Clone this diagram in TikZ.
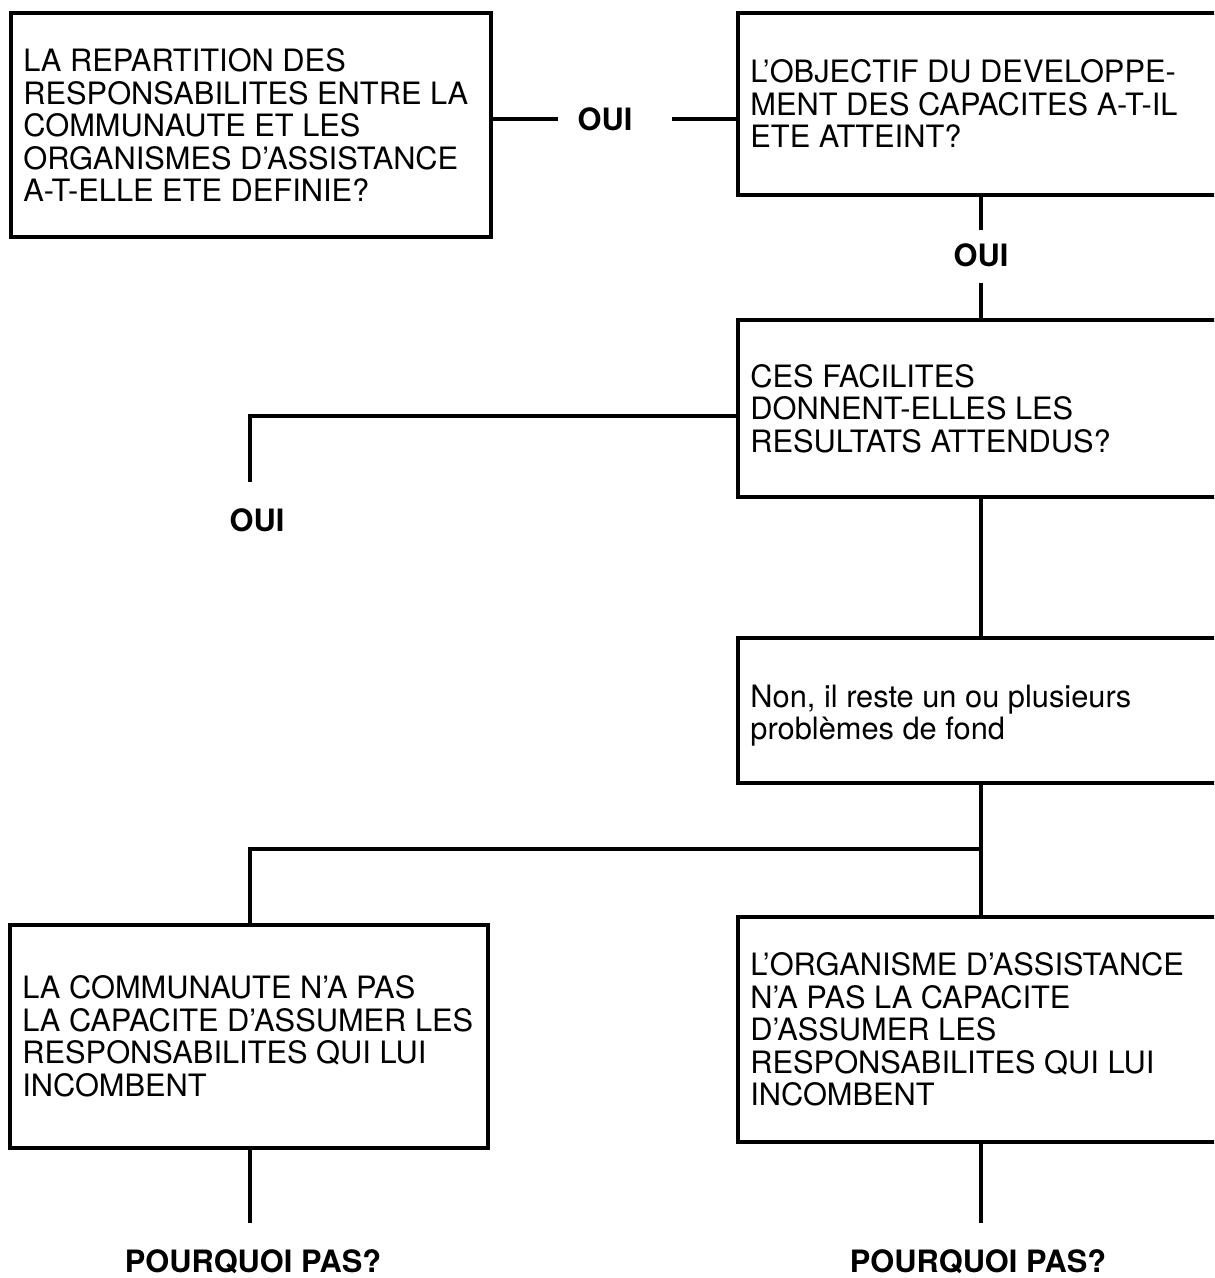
\documentclass[tikz,border=0pt]{standalone}
\usepackage{fontspec}
\setmainfont{TeX Gyre Heros}
\begin{document}
\begin{tikzpicture}[x=0.5pt,y=-0.5pt,
  frame/.style={draw, line width=1.9pt, rectangle, inner sep=0pt, outer sep=0pt},
  txt/.style={anchor=west, align=left, inner sep=0pt, font=\fontsize{15.4}{16.25}\selectfont},
  ans/.style={inner sep=0pt, font=\fontsize{15.4}{16}\selectfont\bfseries},
  link/.style={line width=1.7pt}]
\useasboundingbox (0,0) rectangle (1214,1278);
\clip (0,0) rectangle (1214,1278);

% question and finding boxes (the right column runs past the page edge)
\node[frame, minimum width=240pt, minimum height=112pt]   (b1) at (251,125) {};
\node[frame, minimum width=256pt, minimum height=91pt]    (b2) at (994,104) {};
\node[frame, minimum width=256pt, minimum height=88.5pt]  (b3) at (994,408.5) {};
\node[frame, minimum width=256pt, minimum height=72.5pt]  (b4) at (994,710.5) {};
\node[frame, minimum width=239pt, minimum height=111.5pt] (b5) at (249,1036.5) {};
\node[frame, minimum width=256pt, minimum height=112.5pt] (b6) at (994,1029.5) {};

% box texts
\node[txt] (t1) at ([xshift=6pt]b1.west) {LA REPARTITION DES\\RESPONSABILITES ENTRE LA\\COMMUNAUTE ET LES\\ORGANISMES D’ASSISTANCE\\A-T-ELLE ETE DEFINIE?};
\node[txt] (t2) at ([xshift=6pt]b2.west) {L’OBJECTIF DU DEVELOPPE-\\MENT DES CAPACITES A-T-IL\\ETE ATTEINT?};
\node[txt] (t3) at ([xshift=6pt]b3.west) {CES FACILITES\\DONNENT-ELLES LES\\RESULTATS ATTENDUS?};
\node[txt] (t4) at ([xshift=6pt,yshift=-2.5pt]b4.west) {Non, il reste un ou plusieurs\\problèmes de fond};
\node[txt] (t5) at ([xshift=6pt]b5.west) {LA COMMUNAUTE N’A PAS\\LA CAPACITE D’ASSUMER LES\\RESPONSABILITES QUI LUI\\INCOMBENT};
\node[txt] (t6) at ([xshift=6pt]b6.west) {L’ORGANISME D’ASSISTANCE\\N’A PAS LA CAPACITE\\D’ASSUMER LES\\RESPONSABILITES QUI LUI\\INCOMBENT};

% answers
\node[ans] (o1) at (605,119) {OUI};
\node[ans] (o2) at (981,255) {OUI};
\node[ans] (o3) at (257,520) {OUI};
\node[ans] (p1) at (253,1262) {POURQUOI PAS?};
\node[ans] (p2) at (978,1262) {POURQUOI PAS?};

% routing points
\coordinate (cR) at (981,0);
\coordinate (cL) at (250,0);
\coordinate (e1a) at (558,119);
\coordinate (e1b) at (672,119);
\coordinate (e2a) at (981,230);
\coordinate (e2b) at (981,283);
\coordinate (j3) at (250,416);
\coordinate (e3) at (250,482);
\coordinate (jn) at (250,849);
\coordinate (e5) at (250,1223);
\coordinate (e6) at (981,1223);

% connectors
\draw[link] (b1.east |- o1) -- (e1a);
\draw[link] (e1b) -- (b2.west |- o1);
\draw[link] (b2.south -| cR) -- (e2a);
\draw[link] (e2b) -- (b3.north -| cR);
\draw[link] (b3.west |- j3) -- (j3) -- (e3);
\draw[link] (b3.south -| cR) -- (b4.north -| cR);
\draw[link] (b4.south -| cR) -- (b6.north -| cR);
\draw[link] (cR |- jn) -- (jn) -- (b5.north -| jn);
\draw[link] (b5.south -| cL) -- (e5);
\draw[link] (b6.south -| cR) -- (e6);
\end{tikzpicture}
\end{document}
